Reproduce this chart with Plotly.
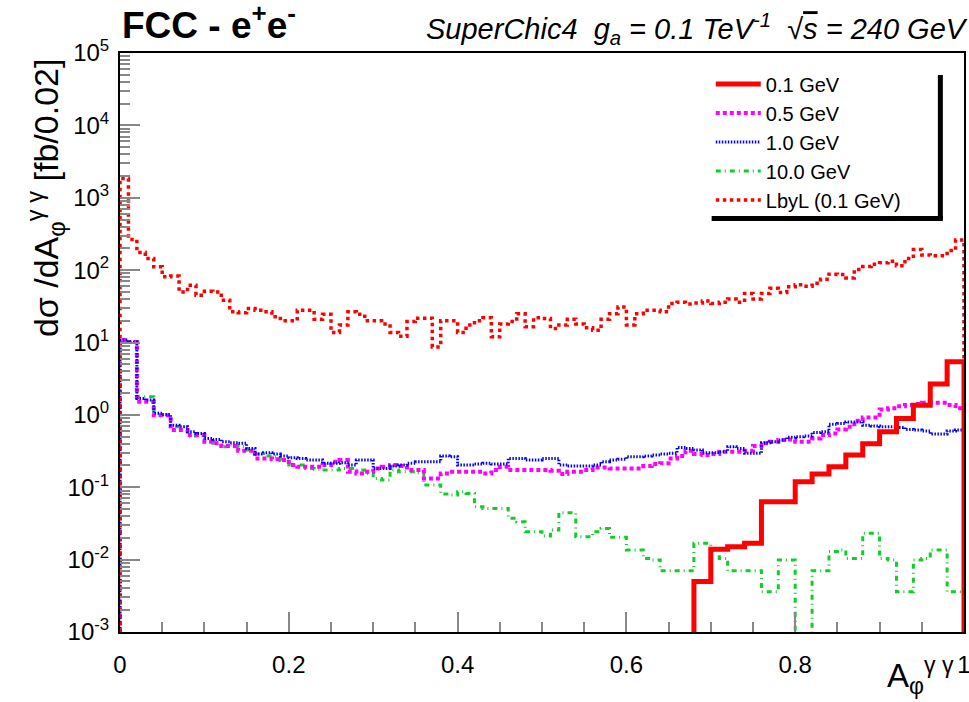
import plotly.graph_objects as go

# ---------------- data (bins of width 0.01 on A_phi^{gamma gamma}) ----------------
bin_edges = [round(i * 0.01, 2) for i in range(101)]

sig_0p1 = [0]*68 + [0.005, 0.005, 0.0139, 0.0139, 0.0151, 0.0151, 0.0168, 0.0168,
                    0.063, 0.063, 0.063, 0.063, 0.119, 0.119, 0.152, 0.152, 0.192, 0.192,
                    0.279, 0.279, 0.40, 0.40, 0.585, 0.585, 0.89, 0.89, 1.36, 1.36,
                    2.66, 2.66, 5.4, 5.4]

sig_0p5 = [10.8, 10.2, 1.52, 1.52, 0.99, 0.99, 0.617, 0.617, 0.526, 0.526,
           0.426, 0.404, 0.371, 0.371, 0.32, 0.32, 0.25, 0.25, 0.243, 0.238,
           0.203, 0.192, 0.192, 0.192, 0.203, 0.225, 0.238, 0.164, 0.155, 0.164,
           0.182, 0.192, 0.203, 0.196, 0.173, 0.173, 0.132, 0.132, 0.155, 0.164,
           0.164, 0.164, 0.164, 0.155, 0.173, 0.192, 0.173, 0.173, 0.173, 0.173,
           0.173, 0.169, 0.152, 0.164, 0.164, 0.173, 0.188, 0.188, 0.182, 0.182,
           0.182, 0.182, 0.196, 0.209, 0.214, 0.25, 0.27, 0.32, 0.288, 0.279,
           0.288, 0.31, 0.31, 0.31, 0.32, 0.371, 0.404, 0.426, 0.449, 0.458,
           0.426, 0.426, 0.473, 0.526, 0.555, 0.63, 0.686, 0.83, 0.92, 0.92,
           1.19, 1.23, 1.32, 1.37, 1.41, 1.47, 1.47, 1.47, 1.37, 1.23]

sig_1p0 = [10.8, 10.2, 1.69, 1.60, 1.05, 1.01, 0.72, 0.686, 0.585, 0.555,
           0.473, 0.458, 0.426, 0.412, 0.404, 0.344, 0.288, 0.30, 0.288, 0.27,
           0.256, 0.25, 0.238, 0.238, 0.214, 0.214, 0.218, 0.203, 0.238, 0.238,
           0.182, 0.182, 0.196, 0.203, 0.214, 0.225, 0.225, 0.225, 0.27, 0.264,
           0.203, 0.203, 0.209, 0.214, 0.209, 0.209, 0.25, 0.25, 0.238, 0.238,
           0.25, 0.25, 0.203, 0.196, 0.196, 0.196, 0.203, 0.225, 0.238, 0.243,
           0.264, 0.264, 0.27, 0.279, 0.288, 0.294, 0.355, 0.344, 0.326, 0.30,
           0.30, 0.31, 0.363, 0.344, 0.294, 0.294, 0.412, 0.426, 0.449, 0.489,
           0.50, 0.51, 0.57, 0.585, 0.74, 0.76, 0.80, 0.80, 0.72, 0.70,
           0.686, 0.686, 0.67, 0.63, 0.617, 0.60, 0.543, 0.543, 0.60, 0.617]

sig_10p0 = [10.8, 10.2, 1.78, 1.78, 0.99, 0.99, 0.686, 0.686, 0.51, 0.526,
            0.426, 0.404, 0.363, 0.383, 0.363, 0.326, 0.288, 0.27, 0.264, 0.232,
            0.203, 0.203, 0.182, 0.177, 0.173, 0.173, 0.182, 0.182, 0.173, 0.155,
            0.132, 0.126, 0.173, 0.164, 0.164, 0.159, 0.107, 0.107, 0.0805, 0.078,
            0.0867, 0.0822, 0.0538, 0.051, 0.051, 0.051, 0.0372, 0.0334, 0.0243, 0.0243,
            0.0212, 0.0256, 0.0445, 0.0445, 0.0207, 0.0207, 0.0243, 0.027, 0.0203, 0.0203,
            0.0136, 0.0136, 0.0104, 0.0099, 0.007, 0.007, 0.007, 0.007, 0.0168, 0.0168,
            0.0136, 0.0104, 0.007, 0.007, 0.007, 0.007, 0.0036, 0.0036, 0.0099, 0.0099,
            0, 0, 0.007, 0.007, 0.0129, 0.0136, 0.0104, 0.0104, 0.0231, 0.0231,
            0.0104, 0.0099, 0.0036, 0.0036, 0.0099, 0.0104, 0.0136, 0.0136, 0.0036, 0.0036]

sig_lbyl = [1845, 265, 175, 145, 111, 81, 83, 50, 62, 45,
            51, 50, 38.5, 26.5, 25.7, 29.5, 28, 26.5, 22.7, 20,
            20, 28, 28, 21, 24.5, 13.8, 17.4, 26.5, 24.5, 20,
            20, 18, 13.8, 12.2, 19.5, 21.7, 21.7, 8.7, 20, 20,
            13.8, 17.4, 20, 22, 12, 18, 19.5, 25, 16.5, 22,
            21.5, 15.6, 17.5, 21, 18, 16, 14.8, 21, 25, 31,
            17.5, 25, 28, 28, 26.5, 34.6, 36, 34, 35, 37.5,
            34.6, 36, 40, 36, 47.6, 40, 47.6, 56, 49, 59,
            63, 60, 66, 75, 88, 87, 78, 102, 112, 121,
            126, 133, 115, 145, 193, 162, 158, 158, 186, 260]

legend_names = ["0.1 GeV", "0.5 GeV", "1.0 GeV", "10.0 GeV", "LbyL (0.1 GeV)"]
x_tick_vals = [0, 0.2, 0.4, 0.6, 0.8, 1.0]
x_tick_text = ["0", "0.2", "0.4", "0.6", "0.8", "1"]
y_tick_vals = [1e-3, 1e-2, 1e-1, 1e0, 1e1, 1e2, 1e3, 1e4, 1e5]
y_tick_text = ["10<sup>-3</sup>", "10<sup>-2</sup>", "10<sup>-1</sup>", "10<sup>0</sup>",
               "10<sup>1</sup>", "10<sup>2</sup>", "10<sup>3</sup>", "10<sup>4</sup>",
               "10<sup>5</sup>"]

FLOOR = 1e-9  # empty bins are drawn below the axis, like ROOT does


def hist_xy(values):
    """ROOT-like histogram outline: rise from the axis at the first edge, drop at the last."""
    vals = [v if v > 0 else FLOOR for v in values]
    xs = [bin_edges[0]] + bin_edges[:-1] + [bin_edges[-1], bin_edges[-1]]
    ys = [FLOOR] + vals + [vals[-1], FLOOR]
    return xs, ys


FONT = "Liberation Sans, Arial, Helvetica, sans-serif"

fig = go.Figure()

styles = [
    # (values, name, color, width, dash, legendrank)
    (sig_10p0, legend_names[3], "#13cc2a", 3, "5px,4px,1px,4px", 4),
    (sig_0p5, legend_names[1], "#ff00ff", 4, "4px,3px", 2),
    (sig_1p0, legend_names[2], "#0000ff", 3, "1.5px,1.5px", 3),
    (sig_lbyl, legend_names[4], "#ff0000", 3.5, "3.5px,3.5px", 5),
    (sig_0p1, legend_names[0], "#ff0000", 5, "solid", 1),
]
for vals, name, color, width, dash, rank in styles:
    xs, ys = hist_xy(vals)
    fig.add_trace(go.Scatter(
        x=xs, y=ys, mode="lines", name=name, legendrank=rank,
        line=dict(color=color, width=width, dash=dash, shape="hv"),
    ))

fig.update_layout(
    width=969, height=702,
    margin=dict(l=120, r=5, t=53, b=70, autoexpand=False),
    paper_bgcolor="white", plot_bgcolor="white",
    font=dict(family=FONT, color="black"),
    showlegend=True,
    legend=dict(
        x=0.700, y=0.980, xanchor="left", yanchor="top",
        bgcolor="rgba(0,0,0,0)", borderwidth=0,
        font=dict(family=FONT, size=20, color="black"),
        itemwidth=45, tracegroupgap=0,
    ),
)

fig.update_xaxes(
    range=[0, 1], showgrid=False, zeroline=False,
    showline=True, linecolor="black", linewidth=2, mirror=True,
    ticks="inside", ticklen=20, tickwidth=2, tickcolor="#888888",
    tickvals=x_tick_vals, ticktext=x_tick_text,
    tickfont=dict(family=FONT, size=24, color="black"),
    ticklabelstandoff=10, ticklabeloverflow="allow", automargin=False,
    minor=dict(ticks="inside", ticklen=10, tickwidth=2, tickcolor="#888888", dtick=0.05),
)
fig.update_yaxes(
    type="log", range=[-3, 5], showgrid=False, zeroline=False,
    showline=True, linecolor="black", linewidth=2, mirror=True,
    ticks="inside", ticklen=20, tickwidth=2, tickcolor="#888888",
    tickvals=y_tick_vals, ticktext=y_tick_text,
    tickfont=dict(family=FONT, size=24, color="black"),
    ticklabelstandoff=4, ticklabeloverflow="allow", automargin=False,
    minor=dict(ticks="inside", ticklen=10, tickwidth=2, tickcolor="#888888", dtick="D1"),
)

# legend shadow (ROOT style: right and bottom edges)
fig.add_shape(type="line", xref="paper", yref="paper", x0=0.972, x1=0.972, y0=0.962, y1=0.714,
              line=dict(color="black", width=5))
fig.add_shape(type="line", xref="paper", yref="paper", x0=0.701, x1=0.975, y0=0.714, y1=0.714,
              line=dict(color="black", width=5))

# texts
fig.add_annotation(xref="paper", yref="paper", x=0.0, y=1.052, xanchor="left", yanchor="middle",
                   text="<b>FCC - e<sup>+</sup>e<sup>-</sup></b>", showarrow=False,
                   font=dict(family=FONT, size=37, color="black"))
fig.add_annotation(xref="paper", yref="paper", x=1.0075, y=1.041, xanchor="right", yanchor="middle",
                   text="<i>SuperChic4\u00a0\u00a0g<sub>a</sub> = 0.1 TeV<sup>-1</sup>\u00a0\u00a0"
                        "\u221a<span style='text-decoration:overline'>s</span> = 240 GeV</i>",
                   showarrow=False, font=dict(family=FONT, size=29, color="black"))
fig.add_annotation(xref="paper", yref="paper", x=-0.088, y=0.995, xanchor="center", yanchor="top",
                   textangle=-90,
                   text="d\u03c3 /dA<sub>\u03c6</sub><sup>\u03b3 \u03b3</sup> [fb/0.02]",
                   showarrow=False, font=dict(family=FONT, size=34, color="black"))
fig.add_annotation(xref="paper", yref="paper", x=0.990, y=-0.075, xanchor="right", yanchor="middle",
                   text="A<sub>\u03c6</sub><sup>\u03b3 \u03b3</sup>",
                   showarrow=False, font=dict(family=FONT, size=33, color="black"))

fig.write_html("out.html", post_script="document.body.style.margin='0px';",
               config={"displayModeBar": False})
